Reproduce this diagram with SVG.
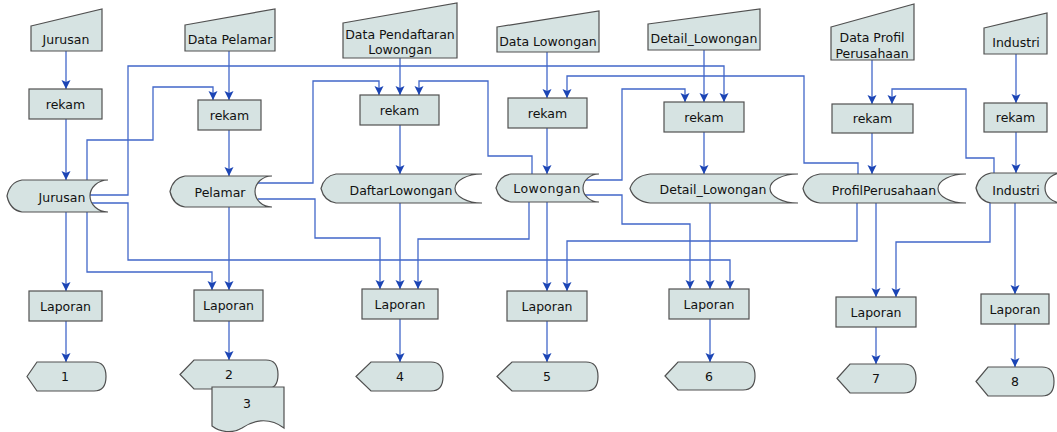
<svg xmlns="http://www.w3.org/2000/svg" width="1057" height="432" viewBox="0 0 1057 432">
<style>
.n{fill:#D6E3E2;stroke:#505050;stroke-width:1.2}
.t{font-family:"DejaVu Sans",Verdana,sans-serif;font-size:12.5px;fill:#111;text-anchor:middle}
.c{fill:none;stroke:#4267C9;stroke-width:1.3;marker-end:url(#ah)}
</style>
<defs>
<marker id="ah" viewBox="0 -5 9 10" refX="9" refY="0" markerWidth="9" markerHeight="10" markerUnits="userSpaceOnUse" orient="auto">
<path d="M0,-4.5 L9,0 L0,4.5 L2,0 Z" fill="#1C45B5"/>
</marker>
</defs>
<rect width="1057" height="432" fill="#fff"/>

<g id="connectors">
<path class="c" d="M66,51 V89"/>
<path class="c" d="M66,119 V180"/>
<path class="c" d="M66,212 V291"/>
<path class="c" d="M66,321 V362"/>
<path class="c" d="M229,51 V100"/>
<path class="c" d="M229,130 V176"/>
<path class="c" d="M229,207 V290"/>
<path class="c" d="M229,321 V360"/>
<path class="c" d="M400,58 V95"/>
<path class="c" d="M400,125 V174"/>
<path class="c" d="M400,203 V289"/>
<path class="c" d="M400,319 V362"/>
<path class="c" d="M547,52 V98"/>
<path class="c" d="M547,128 V174"/>
<path class="c" d="M547,202 V291"/>
<path class="c" d="M547,321 V362"/>
<path class="c" d="M704,50 V102"/>
<path class="c" d="M704,132 V174"/>
<path class="c" d="M710,203 V289"/>
<path class="c" d="M710,319 V362"/>
<path class="c" d="M872,60 V104"/>
<path class="c" d="M872,133 V174"/>
<path class="c" d="M876,203 V297"/>
<path class="c" d="M876,327 V364"/>
<path class="c" d="M1016,54 V103"/>
<path class="c" d="M1016,132 V173"/>
<path class="c" d="M1015,203 V294"/>
<path class="c" d="M1015,324 V367"/>
<path class="c" d="M87,180 V140 H153 V87 H213 V100"/>
<path class="c" d="M87,212 V272 H212 V290"/>
<path class="c" d="M90,195 H128 V66 H724 V102"/>
<path class="c" d="M92,203 H128 V260 H730 V289"/>
<path class="c" d="M258,183 H313 V81 H379 V95"/>
<path class="c" d="M258,199 H315 V238 H380 V289"/>
<path class="c" d="M532,174 V156 H488 V81 H419 V95"/>
<path class="c" d="M529,202 V239 H418 V289"/>
<path class="c" d="M584,180 H622 V89 H685 V102"/>
<path class="c" d="M584,195 H622 V224 H690 V289"/>
<path class="c" d="M858,174 V163 H804 V76 H567 V98"/>
<path class="c" d="M857,203 V241 H567 V291"/>
<path class="c" d="M994,173 V158 H966 V89 H892 V104"/>
<path class="c" d="M990,203 V242 H896 V297"/>
</g>

<g id="in-jurusan"><path class="n" d="M31,26 L102,9 V51 H31 Z"/><text class="t" x="66" y="43.5">Jurusan</text></g>
<g id="in-pelamar"><path class="n" d="M185,25 L275,9 V51 H185 Z"/><text class="t" x="230" y="43.5">Data Pelamar</text></g>
<g id="in-pendaftaran"><path class="n" d="M343,23 L457,3 V58 H343 Z"/><text class="t" x="400" y="38.5">Data Pendaftaran</text><text class="t" x="400" y="54">Lowongan</text></g>
<g id="in-lowongan"><path class="n" d="M497,27 L599,11 V52 H497 Z"/><text class="t" x="548" y="45.5">Data Lowongan</text></g>
<g id="in-detail"><path class="n" d="M648,24 L760,9 V50 H648 Z"/><text class="t" x="704" y="42.5">Detail_Lowongan</text></g>
<g id="in-profil"><path class="n" d="M831,27 L914,4 V60 H831 Z"/><text class="t" x="872" y="41.5">Data Profil</text><text class="t" x="872" y="58">Perusahaan</text></g>
<g id="in-industri"><path class="n" d="M984,28 L1047,13 V54 H984 Z"/><text class="t" x="1016" y="46.5">Industri</text></g>

<g id="rekam-1"><rect class="n" x="29" y="89" width="73" height="30"/><text class="t" x="65.5" y="108.5">rekam</text></g>
<g id="rekam-2"><rect class="n" x="198" y="100" width="63" height="30"/><text class="t" x="229.5" y="119.5">rekam</text></g>
<g id="rekam-3"><rect class="n" x="360" y="95" width="79" height="30"/><text class="t" x="399.5" y="114.5">rekam</text></g>
<g id="rekam-4"><rect class="n" x="508" y="98" width="79" height="30"/><text class="t" x="547.5" y="117.5">rekam</text></g>
<g id="rekam-5"><rect class="n" x="664" y="102" width="80" height="30"/><text class="t" x="704" y="121.5">rekam</text></g>
<g id="rekam-6"><rect class="n" x="832" y="104" width="81" height="29"/><text class="t" x="872.5" y="123">rekam</text></g>
<g id="rekam-7"><rect class="n" x="984" y="103" width="63" height="29"/><text class="t" x="1015.5" y="122">rekam</text></g>

<g id="store-jurusan"><path class="n" d="M22,180 H108 A18,16 0 0 0 108,212 H22 Q10,210 7,196 Q10,182 22,180 Z"/><text class="t" x="62" y="201.5">Jurusan</text></g>
<g id="store-pelamar"><path class="n" d="M185,176 H272 A17,15.5 0 0 0 272,207 H185 Q173,205 170,191.5 Q173,178 185,176 Z"/><text class="t" x="220" y="196.5">Pelamar</text></g>
<g id="store-daftar"><path class="n" d="M336,174 H482 A27,14.5 0 0 0 482,203 H336 Q324,201 321,188.5 Q324,176 336,174 Z"/><text class="t" x="401" y="194.5">DaftarLowongan</text></g>
<g id="store-lowongan"><path class="n" d="M511,174 H599 A16,14 0 0 0 599,202 H511 Q499,200 496,188 Q499,176 511,174 Z"/><text class="t" x="547" y="193" letter-spacing="0.5">Lowongan</text></g>
<g id="store-detail"><path class="n" d="M650,174 H798 A28,14.5 0 0 0 798,203 H650 Q634,201 630,188.5 Q634,176 650,174 Z"/><text class="t" x="713" y="193.5">Detail_Lowongan</text></g>
<g id="store-profil"><path class="n" d="M820,174 H966 A28,14.5 0 0 0 966,203 H820 Q806,201 803,188.5 Q806,176 820,174 Z"/><text class="t" x="884" y="194.5">ProfilPerusahaan</text></g>
<g id="store-industri"><path class="n" d="M991,173 H1062 A17,15 0 0 0 1062,203 H991 Q979,201 976,188 Q979,175 991,173 Z"/><text class="t" x="1016" y="194.5">Industri</text></g>

<g id="laporan-1"><rect class="n" x="29" y="291" width="73" height="30"/><text class="t" x="65.5" y="310.5">Laporan</text></g>
<g id="laporan-2"><rect class="n" x="194" y="290" width="69" height="31"/><text class="t" x="228.5" y="310">Laporan</text></g>
<g id="laporan-4"><rect class="n" x="362" y="289" width="76" height="30"/><text class="t" x="400" y="308.5">Laporan</text></g>
<g id="laporan-5"><rect class="n" x="507" y="291" width="80" height="30"/><text class="t" x="547" y="310.5">Laporan</text></g>
<g id="laporan-6"><rect class="n" x="669" y="289" width="80" height="30"/><text class="t" x="709" y="308.5">Laporan</text></g>
<g id="laporan-7"><rect class="n" x="836" y="297" width="80" height="30"/><text class="t" x="876" y="316.5">Laporan</text></g>
<g id="laporan-8"><rect class="n" x="981" y="294" width="68" height="30"/><text class="t" x="1015" y="313.5">Laporan</text></g>

<g id="display-1"><path class="n" d="M27,376.5 L37,362 H94 Q106,362 106,376.5 Q106,391 94,391 H37 Z"/><text class="t" x="65" y="381">1</text></g>
<g id="display-2"><path class="n" d="M180,374.5 L194,360 H266 Q278,360 278,374.5 Q278,389 266,389 H194 Z"/><text class="t" x="229" y="379">2</text></g>
<g id="doc-3"><path class="n" d="M212,387 H284 V428 C268,416 252,421 242,428 C232,434 220,432 212,426 Z"/><text class="t" x="247" y="407.5">3</text></g>
<g id="display-4"><path class="n" d="M356,376.5 L371,362 H431 Q443,362 443,376.5 Q443,391 431,391 H371 Z"/><text class="t" x="400" y="381">4</text></g>
<g id="display-5"><path class="n" d="M497,376.5 L512,362 H586 Q598,362 598,376.5 Q598,391 586,391 H512 Z"/><text class="t" x="547" y="381">5</text></g>
<g id="display-6"><path class="n" d="M665,376 L678,362 H743 Q755,362 755,376 Q755,390 743,390 H678 Z"/><text class="t" x="709" y="380.5">6</text></g>
<g id="display-7"><path class="n" d="M837,378.5 L850,364 H904 Q916,364 916,378.5 Q916,393 904,393 H850 Z"/><text class="t" x="876" y="383">7</text></g>
<g id="display-8"><path class="n" d="M976,381.5 L988,367 H1042 Q1054,367 1054,381.5 Q1054,396 1042,396 H988 Z"/><text class="t" x="1015" y="386">8</text></g>
</svg>
